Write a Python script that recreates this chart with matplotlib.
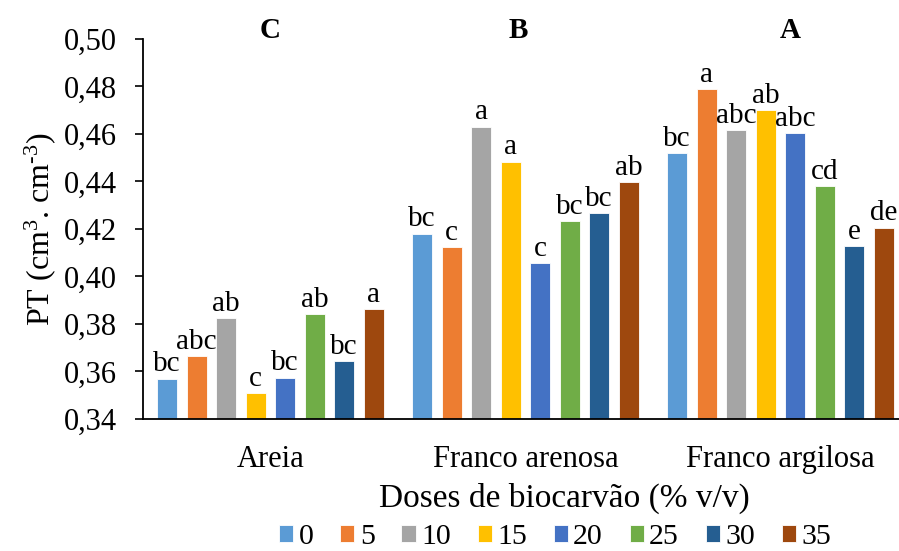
import matplotlib
matplotlib.use("Agg")
import matplotlib.pyplot as plt
import numpy as np

# Soil textures (categories) and their overall significance letters
soils = ["Areia", "Franco arenosa", "Franco argilosa"]
soil_letters = ["C", "B", "A"]

# Biochar doses (% v/v) -> legend entries
doses = ["0", "5", "10", "15", "20", "25", "30", "35"]

# Total porosity per dose, one list per soil
pt_areia = [0.357, 0.3664, 0.3824, 0.3508, 0.3574, 0.3842, 0.3644, 0.3863]
pt_franco_arenosa = [0.4180, 0.4123, 0.4631, 0.4483, 0.4056, 0.4232, 0.4266, 0.4397]
pt_franco_argilosa = [0.4519, 0.4788, 0.4616, 0.4701, 0.4603, 0.4381, 0.4128, 0.4206]

# Mean-comparison letters per dose, one list per soil
lt_areia = ["bc", "abc", "ab", "c", "bc", "ab", "bc", "a"]
lt_franco_arenosa = ["bc", "c", "a", "a", "c", "bc", "bc", "ab"]
lt_franco_argilosa = ["bc", "a", "abc", "ab", "abc", "cd", "e", "de"]

y_ticks = [0.34, 0.36, 0.38, 0.40, 0.42, 0.44, 0.46, 0.48, 0.50]

colors = ["#5B9BD5", "#ED7D31", "#A5A5A5", "#FFC000",
          "#4472C4", "#70AD47", "#255E91", "#9E480E"]

plt.rcParams["font.family"] = ["Liberation Serif", "DejaVu Serif"]
plt.rcParams["mathtext.fontset"] = "custom"
plt.rcParams["mathtext.rm"] = "Liberation Serif"
plt.rcParams["mathtext.it"] = "Liberation Serif:italic"
plt.rcParams["mathtext.bf"] = "Liberation Serif:bold"

FS = 22

values = np.array([pt_areia, pt_franco_arenosa, pt_franco_argilosa])
letters = [lt_areia, lt_franco_arenosa, lt_franco_argilosa]

fig = plt.figure(figsize=(8.99, 5.51), dpi=100)
ax = fig.add_axes([143 / 899, 132 / 551, 765 / 899, 380 / 551])

step = 0.1157
width = 0.0784
x = np.arange(len(soils))
ybase = y_ticks[0]
for j, dose in enumerate(doses):
    xs = x + (j - 3.5) * step
    vals = values[:, j]
    ax.bar(xs, vals - ybase, bottom=ybase, width=width, color=colors[j],
           edgecolor="white", linewidth=0.6, label=dose, zorder=2)
    for k in range(len(soils)):
        ax.annotate(letters[k][j], (xs[k], vals[k]), xytext=(0, 1),
                    textcoords="offset points", ha="center", va="bottom",
                    fontsize=21)

for k, s in enumerate(soil_letters):
    ax.text([0.0, 0.97, 2.04][k], 0.5003, s, ha="center", va="baseline",
            fontsize=21, fontweight="bold")

ax.set_xlim(-0.5, 2.5)
ax.set_ylim(0.34, 0.50)
ax.set_yticks(y_ticks)
ax.set_yticklabels([f"{t:.2f}".replace(".", ",") for t in y_ticks], fontsize=FS)
ax.set_xticks(x)
ax.set_xticklabels(soils, fontsize=FS)
ax.tick_params(axis="x", length=0, pad=19)
ax.tick_params(axis="y", direction="out", length=6, width=1.2, pad=13)

for side in ["top", "right"]:
    ax.spines[side].set_visible(False)
ax.spines["left"].set_linewidth(1.3)
ax.spines["bottom"].set_linewidth(1.3)

ax.set_ylabel("PT (cm$^{3}$. cm$^{\u20103}$)", fontsize=23, labelpad=4)
fig.text(564 / 899, 1 - 498 / 551, "Doses de biocarvão (% v/v)",
         ha="center", va="center", fontsize=24)

leg = fig.legend(loc="center", bbox_to_anchor=(555 / 899, 1 - 537 / 551),
                 ncol=8, frameon=False, fontsize=21.5, handlelength=0.47,
                 handleheight=0.47, handletextpad=0.18, columnspacing=0.9,
                 borderpad=0.05)

fig.savefig("out.png", dpi=100)
